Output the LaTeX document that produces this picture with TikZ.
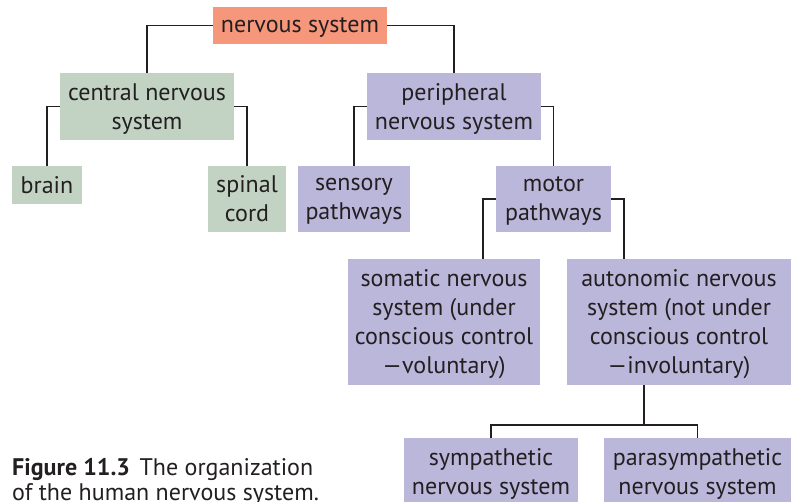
\documentclass[tikz,border=0pt]{standalone}
\usepackage{fontspec}
\setmainfont{PT Sans}
\definecolor{nsred}{HTML}{F6967A}
\definecolor{cnsgreen}{HTML}{C2D3C4}
\definecolor{pnsblue}{HTML}{BBB7DB}
\definecolor{ink}{HTML}{231F20}
\begin{document}
\begin{tikzpicture}[x=1pt, y=-1pt,
    box/.style={rectangle, inner sep=0pt, align=center, text=ink, text depth=0pt,
        font=\fontsize{24}{29}\selectfont},
    topbox/.style={box, fill=nsred},
    cnsbox/.style={box, fill=cnsgreen},
    pnsbox/.style={box, fill=pnsblue},
    link/.style={draw=ink, line width=1.8pt}]
    \useasboundingbox (0,0) rectangle (799,502);

    \node[topbox, minimum width=174pt, minimum height=37pt] (ns) at (300,25.5) {nervous system};
    \node[cnsbox, minimum width=174pt, minimum height=67pt] (cns) at (147,106.5) {central nervous\\system};
    \node[pnsbox, minimum width=174pt, minimum height=67pt] (pns) at (454,106.5) {peripheral\\nervous system};

    \node[cnsbox, minimum width=70pt, minimum height=38pt] (brain) at (47,185) {brain};
    \node[cnsbox, minimum width=78pt, minimum height=66pt] (cord) at (247,199) {spinal\\cord};
    \node[pnsbox, minimum width=112pt, minimum height=66pt] (sensory) at (354,199) {sensory\\pathways};
    \node[pnsbox, minimum width=115pt, minimum height=66pt] (motor) at (553.5,199) {motor\\pathways};

    \node[pnsbox, minimum width=192pt, minimum height=126pt] (somatic) at (444,322) {somatic nervous\\system (under\\conscious control\\---voluntary)};
    \node[pnsbox, minimum width=224pt, minimum height=126pt] (autonomic) at (679,322) {autonomic nervous\\system (not under\\conscious control\\---involuntary)};

    \node[pnsbox, minimum width=174pt, minimum height=66pt] (sympathetic) at (491,471) {sympathetic\\nervous system};
    \node[pnsbox, minimum width=187pt, minimum height=66pt] (para) at (697.5,471) {parasympathetic\\nervous system};

    % caption
    \node[anchor=north west, inner sep=0pt, align=left, text=ink,
        font=\fontsize{24}{25}\selectfont] (caption) at (12,458)
        {\textbf{Figure 11.3}\hspace{0.4em}The organization\\of the human nervous system.};

    % connectors
    \draw[link] (ns.west) -| (cns.north);
    \draw[link] (ns.east) -| (pns.north);
    \draw[link] (cns.west) -| (brain.north);
    \draw[link] (cns.east) -| (cord.north);
    \draw[link] (pns.west) -| (sensory.north);
    \draw[link] (pns.east) -| (motor.north);
    \draw[link] (motor.west) -- ++(-13,0) coordinate (mleft) -- (mleft |- somatic.north);
    \draw[link] (motor.east) -- ++(13,0) coordinate (mright) -- (mright |- autonomic.north);
    \coordinate (fork) at (644,425);
    \draw[link] (fork |- autonomic.south) -- (fork);
    \draw[link] (sympathetic.north) |- (fork) -| (para.north);
\end{tikzpicture}
\end{document}
